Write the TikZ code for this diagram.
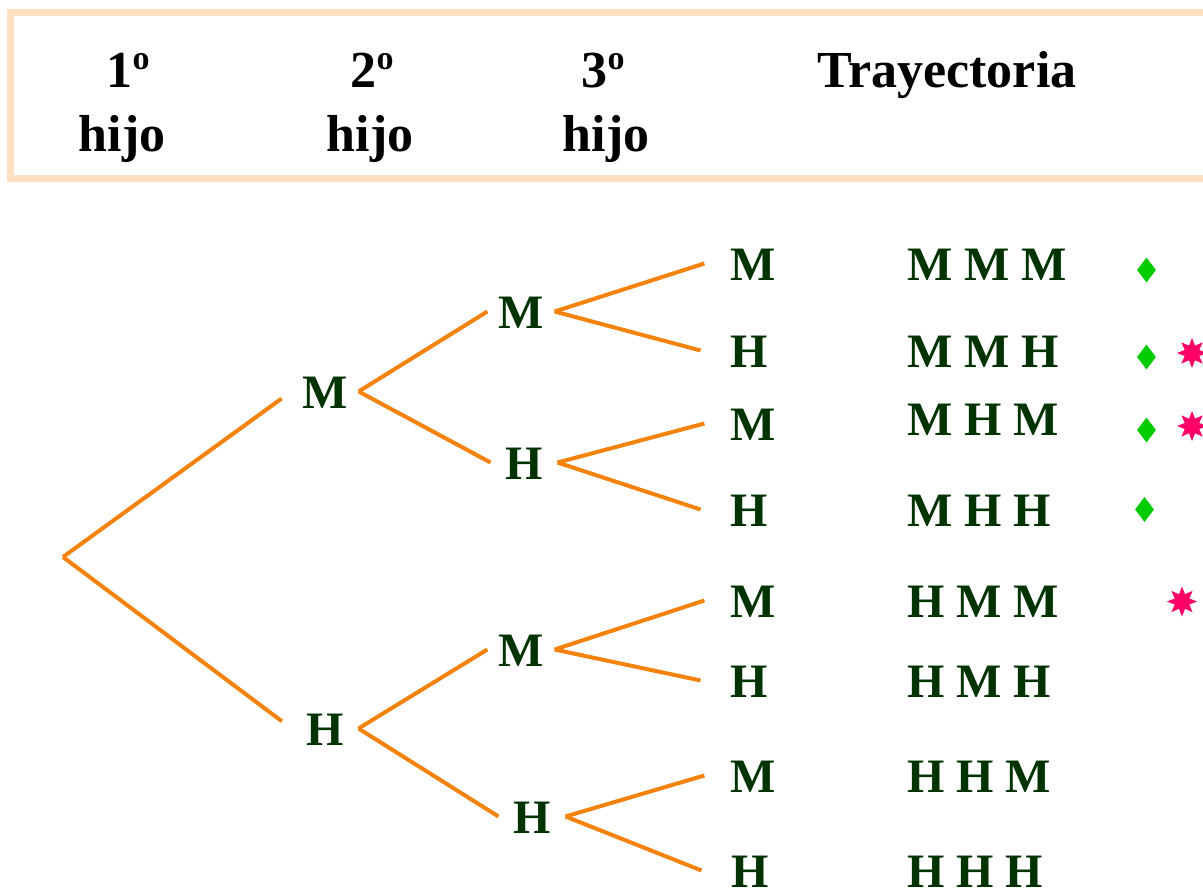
\documentclass[tikz,border=0pt]{standalone}
\usepackage{fontspec}
\setmainfont{Liberation Serif}
\usetikzlibrary{shapes.geometric}
\definecolor{verdeosc}{RGB}{0,51,0}
\definecolor{naranja}{RGB}{245,130,10}
\definecolor{durazno}{RGB}{255,224,194}
\definecolor{verdeclaro}{RGB}{0,204,0}
\definecolor{fucsia}{RGB}{255,0,102}
\newcommand{\ordo}{\raisebox{18pt}{\fontsize{34}{34}\selectfont o}}
\tikzset{
  cab/.style={anchor=base,inner sep=0pt,font=\fontsize{52}{60}\selectfont\bfseries},
  letra/.style={anchor=base,text=verdeosc,font=\fontsize{48}{56}\selectfont\bfseries,inner sep=0pt,outer sep=11pt,minimum width=45pt,text height=33pt,text depth=0pt},
  hoja/.style={letra,outer sep=26pt},
  tray/.style={anchor=base west,text=verdeosc,font=\fontsize{48}{56}\selectfont\bfseries,inner sep=0pt},
  rama/.style={draw=naranja,line width=4pt},
  rombo/.style={diamond,fill=verdeclaro,inner sep=0pt,minimum width=19pt,minimum height=25pt},
  estrella/.style={star,star points=8,star point ratio=1.9,fill=fucsia,inner sep=0pt,minimum size=30pt}
}
\begin{document}
\begin{tikzpicture}[x=1pt,y=-1pt]
\useasboundingbox (0,0) rectangle (1203,891);
\clip (0,0) rectangle (1203,891);
\draw[durazno,line width=6.5pt] (10.5,12.5) rectangle (1206,178.5);
\node[cab] (c1) at (128,88) {1\ordo};
\node[cab] (c1b) at (122,151) {hijo};
\node[cab] (c2) at (372,88) {2\ordo};
\node[cab] (c2b) at (370,151) {hijo};
\node[cab] (c3) at (603,88) {3\ordo};
\node[cab] (c3b) at (606,151) {hijo};
\node[cab] (tr) at (947,88) {Trayectoria};

\coordinate (raiz) at (63,557);
\node[letra] (m) at (325,408) {M};
\node[letra] (h) at (325,745) {H};
\node[letra] (mm) at (521,328) {M};
\node[letra] (mh) at (524,479) {H};
\node[letra] (hm) at (521,666) {M};
\node[letra] (hh) at (532,833) {H};
\node[hoja] (mmm) at (753,280) {M};
\node[hoja] (mmh) at (749,367) {H};
\node[hoja] (mhm) at (753,440) {M};
\node[hoja] (mhh) at (749,526) {H};
\node[hoja] (hmm) at (753,617) {M};
\node[hoja] (hmh) at (749,697) {H};
\node[hoja] (hhm) at (753,792) {M};
\node[hoja] (hhh) at (750,887) {H};

\draw[rama,shorten >=12pt] (raiz) -- (m.west);
\draw[rama,shorten >=12pt] (raiz) -- (h.west);
\draw[rama] (m.east) -- (mm.west);
\draw[rama] (m.east) -- (mh.west);
\draw[rama] (h.east) -- (hm.west);
\draw[rama] (h.east) -- (hh.west);
\draw[rama] (mm.east) -- (mmm.west);
\draw[rama] (mm.east) -- (mmh.west);
\draw[rama] (mh.east) -- (mhm.west);
\draw[rama] (mh.east) -- (mhh.west);
\draw[rama] (hm.east) -- (hmm.west);
\draw[rama] (hm.east) -- (hmh.west);
\draw[rama] (hh.east) -- (hhm.west);
\draw[rama] (hh.east) -- (hhh.west);

\node[tray] (t1) at (907,280) {M M M};
\node[tray] (t2) at (907,367) {M M H};
\node[tray] (t3) at (907,435) {M H M};
\node[tray] (t4) at (907,526) {M H H};
\node[tray] (t5) at (907,617) {H M M};
\node[tray] (t6) at (907,697) {H M H};
\node[tray] (t7) at (907,792) {H H M};
\node[tray] (t8) at (907,887) {H H H};

\node[rombo] (r1) at (1146.5,270) {};
\node[rombo] (r2) at (1146.5,357) {};
\node[rombo] (r3) at (1146.5,430) {};
\node[rombo] (r4) at (1144.5,509.5) {};
\node[estrella] (e1) at (1192,353) {};
\node[estrella] (e2) at (1192,426) {};
\node[estrella] (e3) at (1182,601.5) {};
\end{tikzpicture}
\end{document}
